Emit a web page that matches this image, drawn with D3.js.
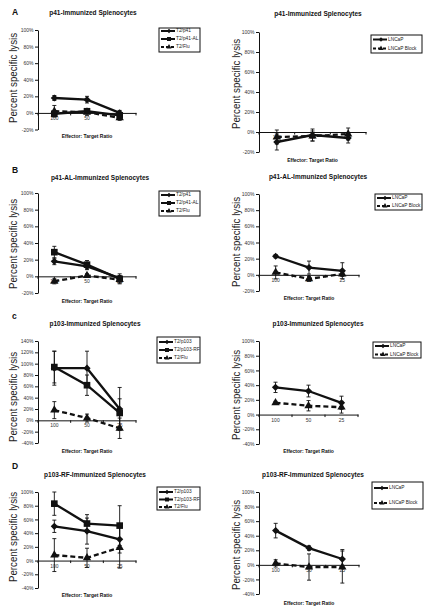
<!DOCTYPE html>
<html><head><meta charset="utf-8">
<script src="https://cdn.jsdelivr.net/npm/d3@7"></script>
<style>body{margin:0;background:#fff}svg{display:block}text{font-family:"Liberation Sans",Arial,sans-serif}</style>
</head><body><svg id="c" width="432" height="613"></svg>
<script>
// ---------- data ----------
const categories = ["100", "50", "25"];
const ticks100 = [-20, 0, 20, 40, 60, 80, 100];
const ticks140 = [-40, -20, 0, 20, 40, 60, 80, 100, 120, 140];
const ticks100n40 = [-40, -20, 0, 20, 40, 60, 80, 100];

// A: p41-immunized
const aT2p41 = [18, 16, 0],   aT2p41Err = [3, 4, 3];
const aT2p41AL = [-1, 2, -3], aT2p41ALErr = [2, 2, 3];
const aT2Flu = [2, 1, -6],    aT2FluErr = [7, 4, 3];
const aLNCaP = [-10, -3, -6], aLNCaPErr = [8, 6, 5];
const aBlock = [-5, -4, -2],  aBlockErr = [7, 5, 6];
// B: p41-AL-immunized
const bT2p41 = [18, 12, -2],  bT2p41Err = [4, 4, 3];
const bT2p41AL = [29, 14, -3], bT2p41ALErr = [7, 5, 6];
const bT2Flu = [-6, 1, -4],   bT2FluErr = [3, 2, 4];
const bLNCaP = [23, 9, 5],    bLNCaPErr = [2, 8, 10];
const bBlock = [3, -5, 1],    bBlockErr = [8, 3, 3];
// C: p103-immunized
const cT2p103 = [92, 92, 20], cT2p103Err = [30, 30, 38];
const cT2p103RF = [94, 62, 13], cT2p103RFErr = [28, 18, 25];
const cT2Flu = [18, 4, -14],  cT2FluErr = [15, 7, 18];
const cLNCaP = [37, 32, 16],  cLNCaPErr = [7, 8, 9];
const cBlock = [16, 12, 10],  cBlockErr = [2, 7, 8];
// D: p103-RF-immunized
const dT2p103 = [50, 43, 31], dT2p103Err = [9, 19, 20];
const dT2p103RF = [83, 54, 51], dT2p103RFErr = [17, 13, 29];
const dT2Flu = [8, 4, 19],    dT2FluErr = [24, 14, 30];
const dLNCaP = [47, 23, 8],   dLNCaPErr = [10, 3, 13];
const dBlock = [2, -3, -3],   dBlockErr = [5, 18, 22];

const titles = ["p41-Immunized Splenocytes", "p41-Immunized  Splenocytes",
  "p41-AL-Immunized Splenocytes", "p41-AL-Immunized Splenocytes",
  "p103-Immunized Splenocytes", "p103-Immunized Splenocytes",
  "p103-RF-Immunized Splenocytes", "p103-RF-Immunized Splenocytes"];
const letters = ["A", "B", "c", "D"];

// ---------- layout ----------
const panels = [
 {t:0, x0:38, x1:136, yT:30, yB:129.5, dom:[-20,100], ticks:ticks100, tx:93, ty:13, xl:137, yl:[14,78],
  lg:{x:159,y:28,w:41,h:24,rows:[31,39,47]}, letter:[12,13],
  series:[["T2/p41",aT2p41,aT2p41Err,"d",0],["T2/p41-AL",aT2p41AL,aT2p41ALErr,"s",0],["T2/Flu",aT2Flu,aT2FluErr,"t",1]]},
 {t:1, x0:259, x1:366, yT:32, yB:152, dom:[-20,100], ticks:ticks100, tx:318, ty:14, xl:161, yl:[237,84],
  lg:{x:371,y:35,w:51,h:18,rows:[39.5,48.5]},
  series:[["LNCaP",aLNCaP,aLNCaPErr,"d",0],["LNCaP Block",aBlock,aBlockErr,"t",1]]},
 {t:2, x0:38, x1:136, yT:193, yB:293, dom:[-20,100], ticks:ticks100, tx:100, ty:178, xl:302, yl:[14,244],
  lg:{x:159,y:191,w:41,h:25,rows:[195,203,211]}, letter:[12,171],
  series:[["T2/p41",bT2p41,bT2p41Err,"d",0],["T2/p41-AL",bT2p41AL,bT2p41ALErr,"s",0],["T2/Flu",bT2Flu,bT2FluErr,"t",1]]},
 {t:3, x0:259, x1:359, yT:194, yB:291, dom:[-20,100], ticks:ticks100, tx:318, ty:177, xl:299, yl:[237,242],
  lg:{x:375,y:194,w:47,h:16,rows:[198,206]},
  series:[["LNCaP",bLNCaP,bLNCaPErr,"d",0],["LNCaP Block",bBlock,bBlockErr,"t",1]]},
 {t:4, x0:38, x1:136, yT:341, yB:443, dom:[-40,140], ticks:ticks140, tx:95, ty:324, xl:452, yl:[14,397],
  lg:{x:157,y:337,w:43,h:26,rows:[342,350,358]}, letter:[12,317],
  series:[["T2/p103",cT2p103,cT2p103Err,"d",0],["T2/p103-RF",cT2p103RF,cT2p103RFErr,"s",0],["T2/Flu",cT2Flu,cT2FluErr,"t",1]]},
 {t:5, x0:259, x1:358, yT:341, yB:444, dom:[-40,100], ticks:ticks100n40, tx:318, ty:324, xl:452, yl:[237,395],
  lg:{x:373,y:342,w:48,h:16,rows:[346,354.5]},
  series:[["LNCaP",cLNCaP,cLNCaPErr,"d",0],["LNCaP Block",cBlock,cBlockErr,"t",1]]},
 {t:6, x0:38, x1:136, yT:492, yB:588, dom:[-40,100], ticks:ticks100n40, tx:95, ty:475, xl:596, yl:[14,537],
  lg:{x:157,y:487,w:43,h:23,rows:[492,499.5,507]}, letter:[12,467],
  series:[["T2/p103",dT2p103,dT2p103Err,"d",0],["T2/p103-RF",dT2p103RF,dT2p103RFErr,"s",0],["T2/Flu",dT2Flu,dT2FluErr,"t",1]]},
 {t:7, x0:259, x1:359, yT:492, yB:594, dom:[-40,100], ticks:ticks100n40, tx:313, ty:475, xl:604, yl:[237,545],
  lg:{x:372,y:482,w:51,h:27,rows:[488,503]},
  series:[["LNCaP",dLNCaP,dLNCaPErr,"d",0],["LNCaP Block",dBlock,dBlockErr,"t",1]]}
];

const svg = d3.select("#c");
const ink = "#111";

function marker(g, type, x, y) {
  let p;
  if (type === "d") p = g.append("path").attr("d", d3.symbol(d3.symbolSquare, 26)()).attr("transform", `translate(${x},${y}) rotate(45)`);
  else if (type === "s") p = g.append("path").attr("d", d3.symbol(d3.symbolSquare, 44)()).attr("transform", `translate(${x},${y})`);
  else p = g.append("path").attr("d", d3.symbol(d3.symbolTriangle, 30)()).attr("transform", `translate(${x},${y})`);
  p.attr("fill", ink);
}

panels.forEach(P => {
  const g = svg.append("g");
  const x = d3.scaleBand().domain(categories).range([P.x0, P.x1]);
  const y = d3.scaleLinear().domain(P.dom).range([P.yB, P.yT]);
  const y0 = y(0);

  // title
  g.append("text").attr("x", P.tx).attr("y", P.ty).attr("text-anchor", "middle")
    .attr("dominant-baseline", "middle").attr("font-size", 6.5).attr("font-weight", "bold").attr("fill", ink)
    .text(titles[P.t]);
  if (P.letter) {
    g.append("text").attr("x", P.letter[0]).attr("y", P.letter[1]).attr("dominant-baseline", "middle")
      .attr("font-size", 8.5).attr("font-weight", "bold").attr("fill", ink).text(letters[P.t / 2]);
  }

  // y axis
  const ya = g.append("g").attr("transform", `translate(${P.x0},0)`)
    .call(d3.axisLeft(y).tickValues(P.ticks).tickSize(3).tickSizeOuter(0).tickPadding(1.5).tickFormat(d => d + "%"));
  ya.selectAll("text").attr("font-size", 5).attr("fill", "#333").attr("font-family", '"Liberation Sans",Arial,sans-serif');
  ya.selectAll("line,path").attr("stroke", ink).attr("stroke-width", 1);

  // x axis at 0
  const xa = g.append("g").attr("transform", `translate(0,${y0})`)
    .call(d3.axisBottom(x).tickSize(0).tickPadding(3.5).tickSizeOuter(0));
  xa.selectAll("text").attr("font-size", 5).attr("fill", "#333").attr("font-family", '"Liberation Sans",Arial,sans-serif');
  xa.select("path").attr("stroke", ink).attr("stroke-width", 1);
  const bounds = categories.map(c => x(c)).concat([x(categories[categories.length - 1]) + x.bandwidth()]);
  xa.selectAll(".bt").data(bounds).join("line").attr("class", "bt")
    .attr("x1", d => d).attr("x2", d => d).attr("y1", 0).attr("y2", 2.5).attr("stroke", ink);

  // axis labels
  g.append("text").attr("x", (P.x0 + P.x1) / 2).attr("y", P.xl).attr("text-anchor", "middle")
    .attr("dominant-baseline", "middle").attr("font-size", 5).attr("font-weight", "bold").attr("fill", ink)
    .text("Effector: Target Ratio");
  g.append("text").attr("transform", `translate(${P.yl[0]},${P.yl[1]}) rotate(-90)`).attr("text-anchor", "middle")
    .attr("dominant-baseline", "middle").attr("font-size", 11).attr("fill", "#222")
    .attr("textLength", 90).attr("lengthAdjust", "spacingAndGlyphs").text("Percent specific lysis");

  const cx = c => x(c) + x.bandwidth() / 2;
  // error bars
  P.series.forEach(([name, vals, errs]) => {
    vals.forEach((v, i) => {
      const xc = cx(categories[i]);
      const ylo = y(v - errs[i]), yhi = y(v + errs[i]);
      g.append("line").attr("x1", xc).attr("x2", xc).attr("y1", ylo).attr("y2", yhi).attr("stroke", ink).attr("stroke-width", 0.9);
      [ylo, yhi].forEach(yy => g.append("line").attr("x1", xc - 2).attr("x2", xc + 2).attr("y1", yy).attr("y2", yy).attr("stroke", ink).attr("stroke-width", 0.9));
    });
  });
  // lines and markers
  P.series.forEach(([name, vals, errs, mk, dashed]) => {
    const line = d3.line().x((d, i) => cx(categories[i])).y(d => y(d));
    g.append("path").attr("d", line(vals)).attr("fill", "none").attr("stroke", ink)
      .attr("stroke-width", 2.3).attr("stroke-dasharray", dashed ? "5,3" : null);
    vals.forEach((v, i) => marker(g, mk, cx(categories[i]), y(v)));
  });

  // legend
  const L = P.lg;
  g.append("rect").attr("x", L.x).attr("y", L.y).attr("width", L.w).attr("height", L.h)
    .attr("fill", "#fff").attr("stroke", ink).attr("stroke-width", 1);
  P.series.forEach(([name, vals, errs, mk, dashed], i) => {
    const ry = L.rows[i];
    g.append("line").attr("x1", L.x + 2).attr("x2", L.x + 16).attr("y1", ry).attr("y2", ry)
      .attr("stroke", ink).attr("stroke-width", 2).attr("stroke-dasharray", dashed ? "3,2" : null);
    const mg = g.append("g").attr("transform", `translate(${L.x + 10},${ry}) scale(0.6)`);
    marker(mg, mk, 0, 0);
    g.append("text").attr("x", L.x + 17).attr("y", ry).attr("dominant-baseline", "middle")
      .attr("font-size", 4.8).attr("fill", "#222").text(name);
  });
});
</script></body></html>
